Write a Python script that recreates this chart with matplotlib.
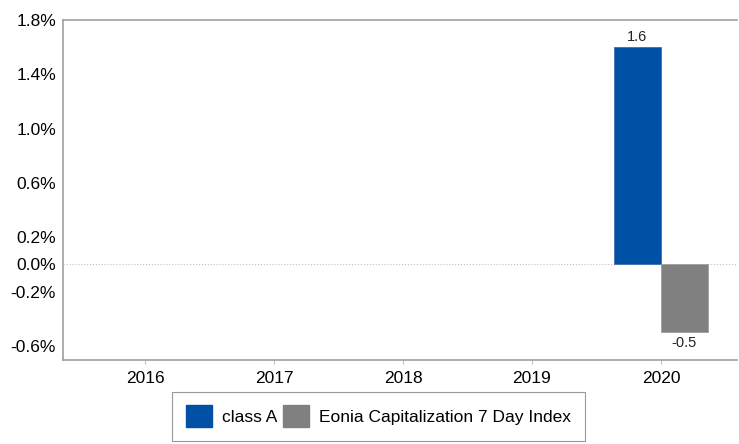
import numpy as np
import matplotlib.pyplot as plt
from matplotlib.patches import Patch

plt.rcParams['font.family'] = ['Liberation Sans', 'DejaVu Sans']

years = ['2016', '2017', '2018', '2019', '2020']
class_a = [np.nan, np.nan, np.nan, np.nan, 1.6]
eonia = [np.nan, np.nan, np.nan, np.nan, -0.5]
yticks = [1.8, 1.4, 1.0, 0.6, 0.2, 0.0, -0.2, -0.6]

blue = '#0050a5'
grey = '#808080'

fig = plt.figure(figsize=(7.39, 4.44), dpi=100)
ax = fig.add_axes([0.0853, 0.189, 0.912, 0.766])

x = np.arange(len(years))
w = 0.365
ax.bar(x - w/2, class_a, w, color=blue, edgecolor='#3f6fa8', linewidth=0.6, zorder=3)
ax.bar(x + w/2, eonia, w, color=grey, edgecolor='#a0a0a0', linewidth=0.6, zorder=3)

for i in range(len(years)):
    if not np.isnan(class_a[i]):
        ax.text(x[i] - w/2, class_a[i] + 0.025, '%.1f' % class_a[i], ha='center', va='bottom', fontsize=10.5, color='#222222')
    if not np.isnan(eonia[i]):
        ax.text(x[i] + w/2, eonia[i] - 0.025, '%.1f' % eonia[i], ha='center', va='top', fontsize=10.5, color='#222222')

ax.axhline(0, color='#c0c0c0', linestyle=':', linewidth=0.8, zorder=1)

ax.set_xlim(-0.636, 4.59)
ax.set_ylim(-0.704, 1.8)
ax.set_xticks(x)
ax.set_xticklabels(years, fontsize=12.5)
ax.set_yticks(yticks)
ax.set_yticklabels(['%.1f%%' % v for v in yticks], fontsize=12.5)
ax.tick_params(axis='y', length=0, pad=5)
ax.tick_params(axis='x', length=3, color='#c0c0c0', pad=5)

for s in ['left', 'top', 'bottom']:
    ax.spines[s].set_color('#a0a0a0')
    ax.spines[s].set_linewidth(1.2)
ax.spines['right'].set_visible(False)

handles = [Patch(facecolor=blue, edgecolor=blue), Patch(facecolor=grey, edgecolor=grey)]
leg = fig.legend(handles, ['class A', 'Eonia Capitalization 7 Day Index'], loc='center',
                 bbox_to_anchor=(0.512, 0.063), ncol=2, fontsize=12.5, frameon=True,
                 fancybox=False, edgecolor='#808080', handlelength=1.5, handleheight=1.5,
                 handletextpad=0.6, columnspacing=0.3, borderpad=0.8)
leg.get_frame().set_linewidth(0.8)

plt.savefig('out.png', dpi=100)
